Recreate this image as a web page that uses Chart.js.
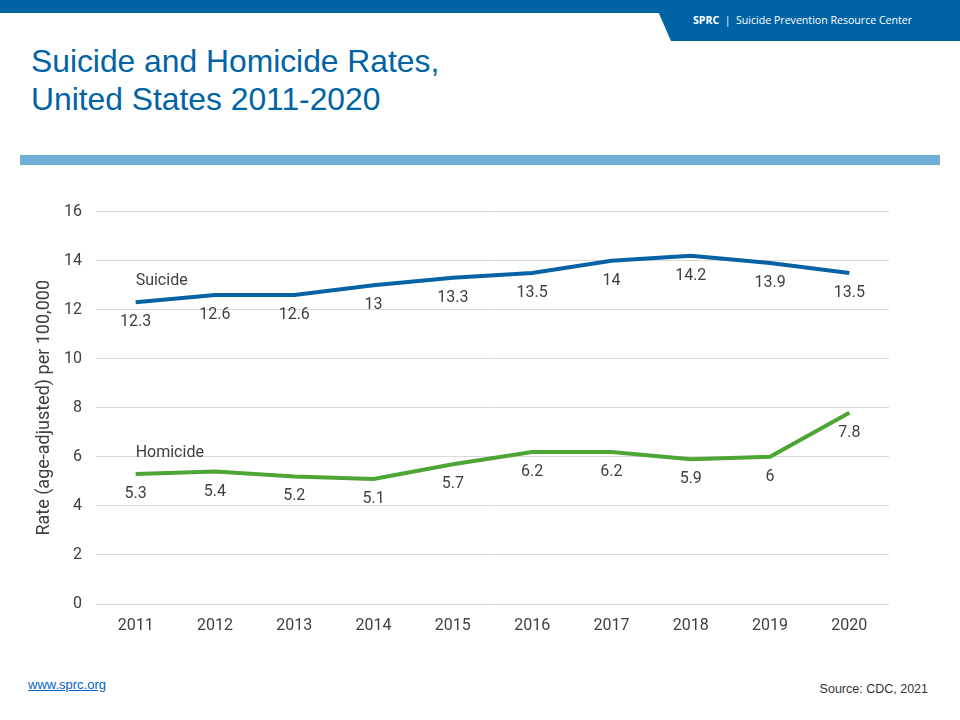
<!DOCTYPE html>
<html><head><meta charset="utf-8">
<script src="https://cdn.jsdelivr.net/npm/chart.js@4"></script>
<style>
html,body{margin:0;padding:0;background:#fff;}
#page{position:relative;width:960px;height:720px;overflow:hidden;font-family:"Liberation Sans",Arial,sans-serif;}
#topbar{position:absolute;left:0;top:0;width:960px;height:13px;background:#0063a6;}
#tab{position:absolute;left:653px;top:0;width:307px;height:41px;background:#0063a6;clip-path:polygon(0 0,100% 0,100% 100%,18px 100%);}
#tabtext{position:absolute;left:693px;top:13px;color:#fff;font-family:"Open Sans","DejaVu Sans",sans-serif;font-size:10.6px;white-space:nowrap;}
#title{position:absolute;left:31px;top:42px;color:#0063a6;font-size:31.8px;line-height:38px;}
#rule{position:absolute;left:20px;top:155px;width:920px;height:10px;background:#6fafd9;}
#wrap{position:absolute;left:20px;top:188px;width:880px;height:452px;}
#link{position:absolute;left:28px;top:677px;color:#0563c1;font-size:13px;text-decoration:underline;font-family:"Liberation Sans Narrow","Liberation Sans",Arial,sans-serif;}
#source{position:absolute;right:32px;top:682px;color:#333;font-size:12.5px;font-family:"Liberation Sans Narrow","Liberation Sans",Arial,sans-serif;}
</style></head>
<body><div id="page">
<div id="topbar"></div><div id="tab"></div>
<div id="tabtext"><b>SPRC</b>&nbsp; | &nbsp;Suicide Prevention Resource Center</div>
<div id="title">Suicide and Homicide Rates,<br>United States 2011-2020</div>
<div id="rule"></div>
<div id="wrap"><canvas id="c"></canvas></div>
<div id="link">www.sprc.org</div>
<div id="source">Source: CDC, 2021</div>
</div>
<script>
const years = ["2011","2012","2013","2014","2015","2016","2017","2018","2019","2020"];
const suicide = [12.3,12.6,12.6,13,13.3,13.5,14,14.2,13.9,13.5];
const homicide = [5.3,5.4,5.2,5.1,5.7,6.2,6.2,5.9,6,7.8];
const seriesNames = ["Suicide","Homicide"];
const yTitle = "Rate (age-adjusted) per 100,000";

const labelPlugin = {
  id:'labels',
  afterDatasetsDraw(chart){
    const ctx = chart.ctx;
    ctx.save();
    ctx.font = '16px Roboto';
    ctx.fillStyle = '#404040';
    chart.data.datasets.forEach((ds,i)=>{
      const meta = chart.getDatasetMeta(i);
      ctx.textAlign='center'; ctx.textBaseline='middle';
      meta.data.forEach((pt,j)=>{
        ctx.fillText(String(ds.data[j]), pt.x, pt.y+20);
      });
      const p0 = meta.data[0];
      ctx.textAlign='left';
      ctx.fillText(ds.label, p0.x, p0.y-21);
    });
    ctx.restore();
  }
};

new Chart(document.getElementById('c'),{
  type:'line',
  data:{labels:years,datasets:[
    {label:seriesNames[0],data:suicide,borderColor:'#0563a5',borderWidth:4,pointRadius:0,tension:0,fill:false},
    {label:seriesNames[1],data:homicide,borderColor:'#4ca535',borderWidth:4,pointRadius:0,tension:0,fill:false}
  ]},
  options:{
    responsive:true,maintainAspectRatio:false,animation:false,
    layout:{padding:{top:8,right:11,left:0,bottom:0}},
    plugins:{legend:{display:false},tooltip:{enabled:false}},
    scales:{
      x:{offset:true,grid:{display:false},border:{display:false},
         ticks:{color:'#404040',font:{family:'Roboto',size:16},padding:4},
         afterFit(s){s.height=36;}},
      y:{min:0,max:16,ticks:{stepSize:2,color:'#404040',font:{family:'Roboto',size:16},padding:14},
         grid:{color:'#d9d9d9',lineWidth:1,drawTicks:false},border:{display:false},
         title:{display:true,text:yTitle,color:'#404040',font:{family:'Roboto',size:18},padding:{top:14,bottom:0}},
         afterFit(s){s.width=76;}}
    }
  },
  plugins:[labelPlugin]
});
</script>
</body></html>
